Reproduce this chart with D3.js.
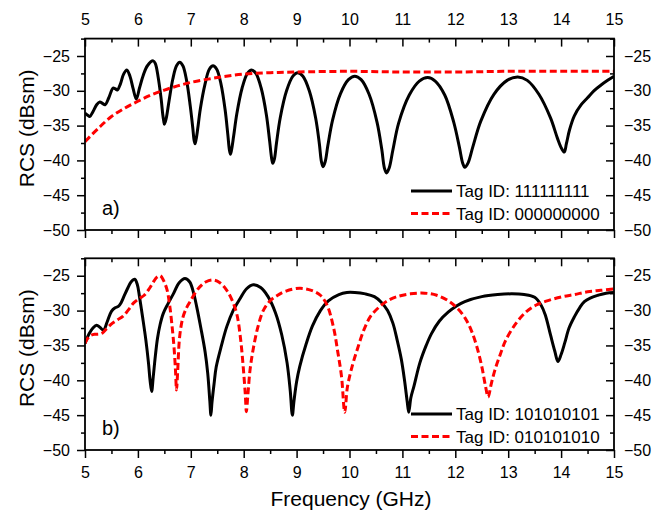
<!DOCTYPE html>
<html><head><meta charset="utf-8">
<script src="https://cdn.jsdelivr.net/npm/d3@7"></script>
<style>
body{margin:0;background:#fff;}
svg{display:block;font-family:"Liberation Sans",Arial,sans-serif;}
</style></head><body>
<svg id="chart" width="664" height="510"></svg>
<script>
// ---------- data ----------
const xMajorTicks = [5,6,7,8,9,10,11,12,13,14,15];
const xMinorTicks = [5.5,6.5,7.5,8.5,9.5,10.5,11.5,12.5,13.5,14.5];
const yMajorTicks = [-25,-30,-35,-40,-45,-50];
const yMinorTicks = [-22.5,-27.5,-32.5,-37.5,-42.5,-47.5];

const legendA = ["Tag ID: 111111111","Tag ID: 000000000"];
const legendB = ["Tag ID: 101010101","Tag ID: 010101010"];
const panelLabels = ["a)","b)"];

// Panel a) Tag ID 111111111 : [GHz, dBsm]
const tag111111111 = [
[5.00,-33.2],[5.05,-33.5],[5.09,-33.7],[5.15,-33.0],[5.22,-32.0],[5.28,-31.6],[5.33,-31.8],[5.38,-32.0],[5.45,-31.0],[5.53,-29.6],[5.57,-29.7],[5.61,-29.9],[5.67,-29.0],[5.73,-27.6],[5.79,-27.0],[5.85,-27.9],[5.91,-29.7],[5.97,-31.2],[6.03,-29.6],[6.10,-27.8],[6.18,-26.4],[6.29,-25.7],
[6.33,-26.1],[6.38,-27.9],[6.44,-31.2],[6.47,-33.4],[6.49,-34.4],[6.50,-34.8],
[6.52,-34.4],[6.54,-33.8],[6.59,-31.4],[6.66,-28.3],[6.73,-26.4],[6.79,-25.9],
[6.85,-26.4],[6.92,-28.5],[6.99,-32.2],[7.04,-35.5],[7.06,-37.0],[7.08,-37.6],
[7.10,-37.0],[7.13,-35.5],[7.18,-32.6],[7.27,-29.0],[7.35,-26.9],[7.42,-26.4],
[7.49,-26.9],[7.57,-29.0],[7.65,-32.8],[7.70,-36.3],[7.73,-38.5],[7.75,-39.1],
[7.77,-38.5],[7.81,-36.5],[7.87,-33.3],[7.97,-29.6],[8.07,-27.5],[8.15,-27.0],
[8.23,-27.5],[8.33,-29.6],[8.43,-33.5],[8.49,-37.2],[8.53,-39.8],[8.55,-40.4],
[8.58,-39.8],[8.62,-37.5],[8.69,-33.9],[8.81,-30.0],[8.93,-27.9],[9.02,-27.4],
[9.12,-27.9],[9.24,-30.0],[9.36,-33.9],[9.43,-37.6],[9.47,-40.2],[9.50,-40.9],
[9.54,-40.2],[9.59,-37.9],[9.68,-34.2],[9.83,-30.4],[9.98,-28.4],[10.10,-27.9],
[10.22,-28.4],[10.37,-30.5],[10.52,-34.5],[10.61,-38.4],[10.66,-41.1],[10.70,-41.8],
[10.75,-41.1],[10.82,-38.5],[10.93,-34.6],[11.13,-30.6],[11.32,-28.6],[11.48,-28.1],
[11.62,-28.6],[11.80,-30.6],[11.97,-34.5],[12.08,-38.2],[12.14,-40.4],[12.18,-41.0],
[12.24,-40.4],[12.33,-38.1],[12.48,-34.4],[12.73,-30.5],[12.98,-28.5],[13.18,-28.0],
[13.36,-28.5],[13.58,-30.5],[13.80,-33.9],[13.93,-36.8],[14.01,-38.3],[14.06,-38.8],
[14.10,-37.6],[14.16,-35.6],[14.25,-33.6],[14.38,-32.0],[14.50,-31.0],[14.62,-30.0],[14.75,-29.2],[14.88,-28.5],[15.00,-27.9]
];
// Panel a) Tag ID 000000000
const tag000000000 = [
[5.0,-37.3],[5.25,-35.4],[5.5,-33.7],[5.75,-32.5],[6.0,-31.5],[6.25,-30.6],[6.5,-29.9],[6.75,-29.3],[7.0,-28.8],[7.5,-28.1],[8.0,-27.6],[8.5,-27.4],[9.0,-27.3],[10.0,-27.2],[11.0,-27.3],[12.0,-27.3],[13.0,-27.2],[14.0,-27.2],[15.0,-27.2]
];
// Panel b) Tag ID 101010101
const tag101010101 = [
[5.00,-34.7],[5.08,-33.3],[5.15,-32.5],[5.22,-32.1],[5.28,-32.4],[5.35,-32.8],[5.42,-31.6],[5.50,-30.1],[5.57,-29.6],[5.63,-29.4],[5.68,-28.9],[5.74,-27.9],[5.80,-26.9],[5.87,-25.9],[5.94,-25.5],
[5.99,-26.3],[6.03,-28.0],[6.09,-31.0],[6.15,-34.2],[6.20,-37.5],[6.23,-40.0],[6.26,-41.6],
[6.29,-39.5],[6.33,-36.5],[6.37,-34.0],[6.42,-32.0],[6.48,-30.4],[6.57,-29.0],[6.67,-27.6],[6.78,-26.0],[6.89,-25.4],
[6.98,-25.9],[7.05,-27.4],[7.11,-29.4],[7.19,-32.5],[7.27,-35.9],[7.32,-39.0],[7.36,-43.0],[7.38,-45.0],
[7.40,-43.2],[7.44,-40.5],[7.48,-38.1],[7.58,-35.0],[7.68,-32.3],[7.80,-30.0],[7.93,-28.3],[8.05,-26.9],[8.18,-26.3],
[8.32,-26.7],[8.46,-28.0],[8.60,-30.3],[8.72,-33.5],[8.82,-37.5],[8.88,-41.5],[8.92,-45.0],
[8.95,-43.0],[9.00,-40.2],[9.06,-38.0],[9.18,-34.8],[9.30,-32.2],[9.45,-30.0],[9.60,-28.6],[9.80,-27.7],[9.95,-27.4],[10.10,-27.4],
[10.30,-27.6],[10.47,-28.0],[10.60,-28.8],[10.72,-30.0],[10.82,-31.8],[10.90,-34.2],[10.98,-37.0],[11.04,-40.0],[11.09,-43.0],[11.12,-44.6],
[11.16,-42.5],[11.22,-40.8],[11.33,-37.5],[11.45,-35.0],[11.55,-33.3],[11.70,-31.5],[11.87,-30.2],[12.03,-29.3],[12.18,-28.7],[12.50,-28.0],[12.80,-27.7],[13.07,-27.6],[13.30,-27.7],[13.50,-28.1],[13.62,-29.2],[13.70,-30.6],[13.80,-33.5],[13.88,-35.8],[13.94,-37.3],
[14.00,-36.3],[14.07,-34.6],[14.15,-32.5],[14.25,-30.9],[14.35,-29.6],[14.44,-28.7],[14.55,-28.2],[14.70,-27.8],[14.85,-27.5],[15.00,-27.4]
];
// Panel b) Tag ID 010101010
const tag010101010 = [
[5.00,-34.7],[5.05,-34.0],[5.10,-33.6],[5.18,-33.4],[5.26,-33.4],[5.33,-33.2],[5.42,-32.5],[5.52,-31.8],[5.62,-31.3],[5.72,-30.8],[5.82,-29.9],[5.92,-28.9],[6.02,-28.3],[6.12,-27.8],[6.22,-26.8],[6.30,-25.8],[6.36,-25.2],[6.42,-25.0],
[6.48,-25.6],[6.55,-27.0],[6.60,-29.2],[6.64,-31.8],[6.68,-35.0],[6.71,-38.5],[6.73,-41.4],
[6.75,-39.0],[6.79,-33.7],[6.85,-31.0],[6.92,-29.6],[6.98,-28.8],[7.08,-27.5],[7.17,-26.6],[7.28,-25.9],[7.42,-25.6],
[7.55,-26.0],[7.68,-27.1],[7.78,-28.5],[7.87,-30.5],[7.94,-34.0],[7.99,-38.0],[8.03,-42.0],[8.05,-44.5],
[8.08,-42.0],[8.12,-38.5],[8.18,-35.5],[8.27,-32.3],[8.37,-30.0],[8.50,-28.6],[8.62,-27.9],[8.80,-27.2],[9.06,-26.8],
[9.28,-27.1],[9.45,-27.8],[9.58,-29.3],[9.70,-32.5],[9.78,-36.0],[9.85,-39.5],[9.91,-44.6],
[9.96,-41.0],[10.05,-38.0],[10.15,-35.5],[10.27,-32.8],[10.40,-30.8],[10.56,-29.5],[10.72,-28.6],[10.90,-28.0],[11.15,-27.6],[11.42,-27.5],
[11.65,-27.8],[11.87,-28.6],[12.03,-29.6],[12.18,-31.0],[12.30,-32.8],[12.40,-35.0],[12.50,-38.0],[12.57,-40.8],[12.62,-42.4],
[12.68,-40.5],[12.75,-38.5],[12.85,-36.3],[12.95,-34.3],[13.15,-31.8],[13.35,-30.1],[13.53,-29.2],[13.78,-28.5],[14.03,-28.0],[14.25,-27.7],[14.50,-27.3],[14.75,-27.1],[15.00,-26.9]
];

// ---------- layout ----------
const svg = d3.select("#chart");
const left = 85, right = 614;
const x = d3.scaleLinear().domain([5,15]).range([left,right]);
const panels = [
  {top:38.6, bottom:230, solid:tag111111111, dashed:tag000000000, legend:legendA, label:panelLabels[0], topLabels:true, bottomLabels:false, legY:191},
  {top:258.3, bottom:450, solid:tag101010101, dashed:tag010101010, legend:legendB, label:panelLabels[1], topLabels:false, bottomLabels:true, legY:414}
];
const tickFont = 16;

panels.forEach((p,i)=>{
  const y = d3.scaleLinear().domain([-50,-22.5]).range([p.bottom,p.top]);
  const g = svg.append("g");
  const cid = "clip"+i;
  svg.append("clipPath").attr("id",cid).append("rect")
    .attr("x",left).attr("y",p.top).attr("width",right-left).attr("height",p.bottom-p.top);

  const line = d3.line().x(d=>x(d[0])).y(d=>y(d[1])).curve(d3.curveCatmullRom.alpha(0.5));
  g.append("path").datum(p.solid).attr("d",line).attr("clip-path",`url(#${cid})`)
    .attr("fill","none").attr("stroke","#000").attr("stroke-width",3).attr("stroke-linejoin","round");
  g.append("path").datum(p.dashed).attr("d",line).attr("clip-path",`url(#${cid})`)
    .attr("fill","none").attr("stroke","#ff0000").attr("stroke-width",3).attr("stroke-dasharray","7,3.5");

  function styleAxis(sel){
    sel.select(".domain").remove();
    sel.selectAll("line").attr("stroke","#000").attr("stroke-width",1.5);
    sel.selectAll("text").attr("font-size",tickFont).attr("fill","#000")
      .attr("font-family","'Liberation Sans',Arial,sans-serif");
  }
  // bottom axis (outward)
  const bMaj = d3.axisBottom(x).tickValues(xMajorTicks).tickSize(8).tickSizeOuter(0).tickPadding(8.6)
    .tickFormat(p.bottomLabels ? d3.format("d") : "");
  g.append("g").attr("transform",`translate(0,${p.bottom})`).call(bMaj).call(styleAxis);
  g.append("g").attr("transform",`translate(0,${p.bottom})`)
    .call(d3.axisBottom(x).tickValues(xMinorTicks).tickSize(4).tickSizeOuter(0).tickFormat("")).call(styleAxis);
  // top axis (ticks pointing down)
  const tMaj = d3.axisTop(x).tickValues(xMajorTicks).tickSize(-8).tickSizeOuter(0).tickPadding(13.6)
    .tickFormat(p.topLabels ? d3.format("d") : "");
  g.append("g").attr("transform",`translate(0,${p.top})`).call(tMaj).call(styleAxis);
  g.append("g").attr("transform",`translate(0,${p.top})`)
    .call(d3.axisTop(x).tickValues(xMinorTicks).tickSize(-4).tickSizeOuter(0).tickFormat("")).call(styleAxis);
  // left axis (outward)
  g.append("g").attr("transform",`translate(${left},0)`)
    .call(d3.axisLeft(y).tickValues(yMajorTicks).tickSize(8).tickSizeOuter(0).tickPadding(7).tickFormat(d3.format("d"))).call(styleAxis);
  g.append("g").attr("transform",`translate(${left},0)`)
    .call(d3.axisLeft(y).tickValues(yMinorTicks).tickSize(4).tickSizeOuter(0).tickFormat("")).call(styleAxis);
  // right axis (ticks pointing left)
  g.append("g").attr("transform",`translate(${right},0)`)
    .call(d3.axisRight(y).tickValues(yMajorTicks).tickSize(-8).tickSizeOuter(0).tickPadding(10).tickFormat(d3.format("d"))).call(styleAxis);
  g.append("g").attr("transform",`translate(${right},0)`)
    .call(d3.axisRight(y).tickValues(yMinorTicks).tickSize(-4).tickSizeOuter(0).tickFormat("")).call(styleAxis);

  // frame
  g.append("rect").attr("x",left).attr("y",p.top).attr("width",right-left).attr("height",p.bottom-p.top)
    .attr("fill","none").attr("stroke","#000").attr("stroke-width",1.8);

  // panel label
  g.append("text").attr("x",102).attr("y",p.bottom-15).attr("font-size",20).text(p.label);

  // legend
  const lg = g.append("g");
  [0,1].forEach(j=>{
    const ly = p.legY + j*22.5;
    lg.append("line").attr("x1",411).attr("x2",452).attr("y1",ly).attr("y2",ly)
      .attr("stroke", j===0 ? "#000" : "#ff0000").attr("stroke-width",3)
      .attr("stroke-dasharray", j===0 ? null : "7,3.5");
    lg.append("text").attr("x",456).attr("y",ly+6.3).attr("font-size",17).text(p.legend[j]);
  });

  // y title
  svg.append("text").attr("transform",`translate(34,${(p.top+p.bottom)/2 - 6}) rotate(-90)`)
    .attr("text-anchor","middle").attr("font-size",21).text("RCS (dBsm)");
});

svg.append("text").attr("x",351).attr("y",506).attr("text-anchor","middle").attr("font-size",21).text("Frequency (GHz)");
</script>
</body></html>
